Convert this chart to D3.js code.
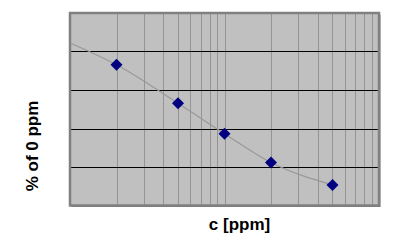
<!DOCTYPE html>
<html>
<head>
<meta charset="utf-8">
<script src="https://cdn.jsdelivr.net/npm/d3@7"></script>
<style>
  html, body { margin: 0; padding: 0; background: #fff; }
  svg { display: block; }
</style>
</head>
<body>
<div id="chart"></div>
<script>
// measured concentrations and response
const conc = [2, 5, 10, 20, 50];
const pct = [73.1, 53.1, 37.3, 22.3, 10.7];

// trendline
const trendX = [1.01, 2, 5, 10, 20, 50];
const trendY = [84.3, 73.1, 53.1, 37.3, 22.3, 10.7];

const yTicks = [20, 40, 60, 80];

const width = 398;
const height = 242;
const plot = { left: 70, top: 13, right: 379, bottom: 205.5 };

const svg = d3.select("#chart")
  .append("svg")
  .attr("width", width)
  .attr("height", height);

const x = d3.scaleLog()
  .domain([1, 100])
  .range([plot.left, plot.right]);

const y = d3.scaleLinear()
  .domain([0, 100])
  .range([plot.bottom, plot.top]);

// shadow on right / bottom edge
svg.append("rect")
  .attr("x", plot.left + 1.5)
  .attr("y", plot.top + 1.5)
  .attr("width", plot.right - plot.left)
  .attr("height", plot.bottom - plot.top)
  .attr("fill", "#7a7a7a");

// plot area background
svg.append("rect")
  .attr("x", plot.left)
  .attr("y", plot.top)
  .attr("width", plot.right - plot.left)
  .attr("height", plot.bottom - plot.top)
  .attr("fill", "#c0c0c0");

// vertical log grid
svg.append("g")
  .selectAll("line")
  .data(x.ticks().filter(d => d > 1 && d < 100))
  .join("line")
  .attr("x1", d => Math.round(x(d)) + 0.5)
  .attr("x2", d => Math.round(x(d)) + 0.5)
  .attr("y1", plot.top)
  .attr("y2", plot.bottom)
  .attr("stroke", "#949494")
  .attr("stroke-width", 1);

// horizontal grid
svg.append("g")
  .selectAll("line")
  .data(yTicks)
  .join("line")
  .attr("x1", plot.left)
  .attr("x2", plot.right)
  .attr("y1", d => Math.round(y(d)) + 0.5)
  .attr("y2", d => Math.round(y(d)) + 0.5)
  .attr("stroke", "#000")
  .attr("stroke-width", 1.2);

// border
svg.append("rect")
  .attr("x", plot.left)
  .attr("y", plot.top)
  .attr("width", plot.right - plot.left)
  .attr("height", plot.bottom - plot.top)
  .attr("fill", "none")
  .attr("stroke", "#808080")
  .attr("stroke-width", 2.5);

// trendline
const line = d3.line()
  .x(d => x(d[0]))
  .y(d => y(d[1]))
  .curve(d3.curveMonotoneX);

svg.append("path")
  .datum(d3.zip(trendX, trendY))
  .attr("d", line)
  .attr("fill", "none")
  .attr("stroke", "#999")
  .attr("stroke-width", 1.2);

// markers
svg.append("g")
  .selectAll("path")
  .data(d3.zip(conc, pct))
  .join("path")
  .attr("transform", d => `translate(${x(d[0])},${y(d[1])})`)
  .attr("d", "M0,-6L6,0L0,6L-6,0Z")
  .attr("fill", "#000080");

// axis titles
svg.append("text")
  .attr("x", 239.5)
  .attr("y", 230)
  .attr("text-anchor", "middle")
  .style("font-family", "'Liberation Sans', Arial, sans-serif")
  .style("font-weight", "bold")
  .style("font-size", "17px")
  .text("c [ppm]");

svg.append("text")
  .attr("transform", "translate(38,146) rotate(-90)")
  .attr("text-anchor", "middle")
  .style("font-family", "'Liberation Sans', Arial, sans-serif")
  .style("font-weight", "bold")
  .style("font-size", "17px")
  .text("% of 0 ppm");
</script>
</body>
</html>
